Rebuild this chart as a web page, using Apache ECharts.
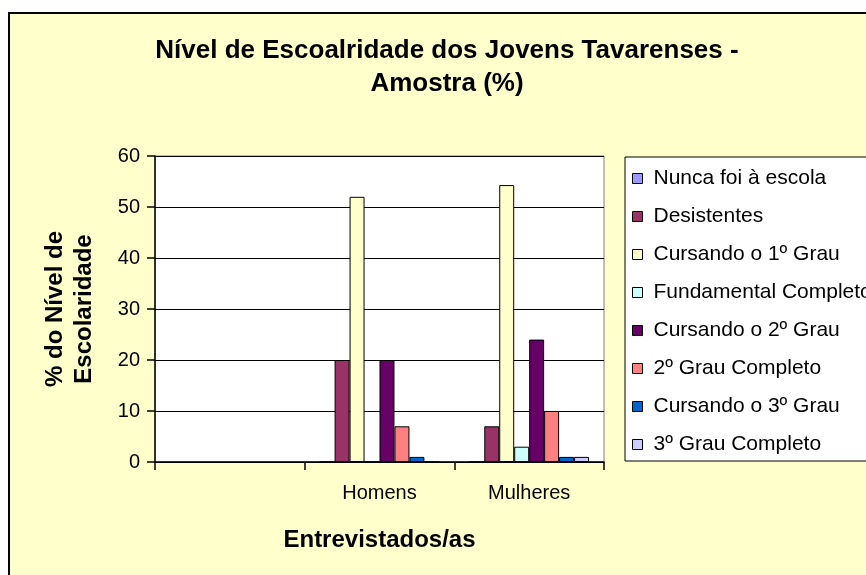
<!DOCTYPE html>
<html>
<head>
<meta charset="utf-8">
<script src="https://cdn.jsdelivr.net/npm/echarts@6/dist/echarts.min.js"></script>
<style>
  html, body { margin: 0; padding: 0; background: #fff; }
  #chart { width: 866px; height: 575px; }
</style>
</head>
<body>
<div id="chart"></div>
<script>
// categorias (a primeira fica em branco, como no original)
const categorias = ['', 'Homens', 'Mulheres'];

// valores em % por nível
const nuncaFoi = [null, 0, 0];
const desistentes = [null, 20, 7];
const cursando1 = [null, 52, 54.3];
const fundamentalCompleto = [null, 0, 3];
const cursando2 = [null, 20, 24];
const grau2Completo = [null, 7, 10];
const cursando3 = [null, 1, 1];
const grau3Completo = [null, 0, 1];

const yTicks = [0, 10, 20, 30, 40, 50, 60];

const fonte = "'Liberation Sans', Arial, sans-serif";

const series = [
  ['Nunca foi à escola', nuncaFoi, '#9999FF'],
  ['Desistentes', desistentes, '#993366'],
  ['Cursando o 1º Grau', cursando1, '#FFFFCC'],
  ['Fundamental Completo', fundamentalCompleto, '#CCFFFF'],
  ['Cursando o 2º Grau', cursando2, '#660066'],
  ['2º Grau Completo', grau2Completo, '#FF8080'],
  ['Cursando o 3º Grau', cursando3, '#0066CC'],
  ['3º Grau Completo', grau3Completo, '#CCCCFF']
].map(([name, data, color]) => ({
  name,
  type: 'bar',
  data,
  barGap: 0,
  barCategoryGap: '20%',
  itemStyle: { color, borderColor: '#000', borderWidth: 1 }
}));

const chart = echarts.init(document.getElementById('chart'));

chart.setOption({
  backgroundColor: '#fff',
  animation: false,
  textStyle: { fontFamily: fonte },
  graphic: [{
    type: 'rect',
    z: -100,
    silent: true,
    shape: { x: 9, y: 13, width: 900, height: 600 },
    style: { fill: '#FFFFCC', stroke: '#000', lineWidth: 2 }
  }],
  title: {
    text: 'Nível de Escoalridade dos Jovens Tavarenses -\nAmostra (%)',
    left: 447,
    top: 34,
    padding: 0,
    textAlign: 'center',
    textStyle: { fontFamily: fonte, fontSize: 26, fontWeight: 'bold', lineHeight: 33, color: '#000' }
  },
  legend: {
    orient: 'vertical',
    left: 625,
    top: 157,
    padding: [11, 40, 6, 7],
    itemWidth: 10,
    itemHeight: 10,
    itemGap: 17,
    icon: 'rect',
    backgroundColor: '#fff',
    borderColor: '#000',
    borderWidth: 1,
    itemStyle: { borderColor: '#000', borderWidth: 1 },
    textStyle: { fontFamily: fonte, fontSize: 21, lineHeight: 21, color: '#000', padding: [0, 0, 0, 6] }
  },
  grid: {
    left: 155,
    top: 156,
    right: 262,
    bottom: 113,
    show: true,
    backgroundColor: '#fff',
    borderColor: '#808080',
    borderWidth: 1
  },
  xAxis: {
    type: 'category',
    data: categorias,
    name: 'Entrevistados/as',
    nameLocation: 'middle',
    nameGap: 66,
    nameTextStyle: { fontFamily: fonte, fontSize: 24, fontWeight: 'bold', color: '#000' },
    axisLine: { lineStyle: { color: '#000', width: 1.5 } },
    axisTick: { show: true, length: 8, interval: 0, lineStyle: { color: '#000', width: 1.5 } },
    axisLabel: { fontFamily: fonte, fontSize: 20, color: '#000', margin: 21, interval: 0 }
  },
  yAxis: {
    type: 'value',
    min: yTicks[0],
    max: yTicks[yTicks.length - 1],
    interval: 10,
    name: '% do Nível de\nEscolaridade',
    nameLocation: 'middle',
    nameRotate: 90,
    nameGap: 56,
    nameTextStyle: { fontFamily: fonte, fontSize: 24, fontWeight: 'bold', lineHeight: 29, color: '#000' },
    axisLine: { show: true, lineStyle: { color: '#000', width: 1.5 } },
    axisTick: { show: true, length: 8, lineStyle: { color: '#000', width: 1.5 } },
    axisLabel: { fontFamily: fonte, fontSize: 20, color: '#000', margin: 15 },
    splitLine: { show: true, lineStyle: { color: '#000', width: 1 } }
  },
  series
});
</script>
</body>
</html>
